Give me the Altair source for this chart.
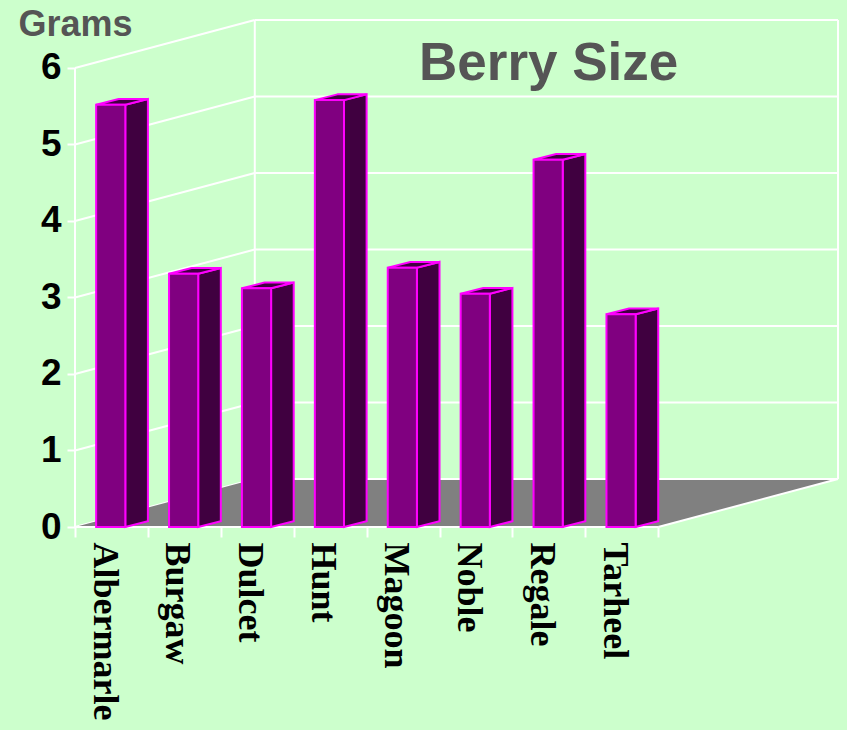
import altair as alt
import pandas as pd

categories = ["Albermarle", "Burgaw", "Dulcet", "Hunt", "Magoon", "Noble", "Regale", "Tarheel"]
grams = [5.52, 3.31, 3.12, 5.58, 3.39, 3.05, 4.80, 2.78]
y_ticks = [0, 1, 2, 3, 4, 5, 6]

BG = "#CCFFCC"
DEPTH_X, DEPTH_Y = 2.466, 0.627
BAR_L, BAR_R = 0.29, 0.69
BAR_DX, BAR_DY = 0.31, 0.075
N = len(categories)
X_MAX, Y_MAX = N + DEPTH_X, 6 + DEPTH_Y

xs = alt.Scale(domain=[0, X_MAX], nice=False, zero=False)
ys = alt.Scale(domain=[0, Y_MAX], nice=False, zero=False)

# walls
rows = []
for v in y_ticks:
    rows.append(dict(x=0, x2=DEPTH_X, y=v, y2=v + DEPTH_Y))
    rows.append(dict(x=DEPTH_X, x2=X_MAX, y=v + DEPTH_Y, y2=v + DEPTH_Y))
rows.append(dict(x=0, x2=0, y=0, y2=6))
rows.append(dict(x=DEPTH_X, x2=DEPTH_X, y=DEPTH_Y, y2=Y_MAX))
rows.append(dict(x=X_MAX, x2=X_MAX, y=DEPTH_Y, y2=Y_MAX))
grid_df = pd.DataFrame(rows)

floor_df = pd.DataFrame([
    dict(y=0, x=0, x2=N),
    dict(y=DEPTH_Y, x=DEPTH_X, x2=X_MAX),
])
edge_df = pd.DataFrame([
    dict(x=0, x2=N, y=0, y2=0),
    dict(x=N, x2=X_MAX, y=0, y2=DEPTH_Y),
    dict(x=DEPTH_X, x2=X_MAX, y=DEPTH_Y, y2=DEPTH_Y),
])

front, side, top = [], [], []
for i, (c, v) in enumerate(zip(categories, grams)):
    l, r = i + BAR_L, i + BAR_R
    front.append(dict(c=c, x=l, x2=r, y=0, y2=v))
    side.append(dict(c=c, x=r, y=0, y2=v))
    side.append(dict(c=c, x=r + BAR_DX, y=BAR_DY, y2=v + BAR_DY))
    top.append(dict(c=c, y=v, x=l, x2=r))
    top.append(dict(c=c, y=v + BAR_DY, x=l + BAR_DX, x2=r + BAR_DX))
front_df, side_df, top_df = pd.DataFrame(front), pd.DataFrame(side), pd.DataFrame(top)

label_expr = "(" + str(categories) + ")[datum.value] || ''"

x_axis = alt.Axis(
    values=list(range(N + 1)), domain=False, grid=False, title=None,
    tickColor="white", tickSize=10, tickWidth=2,
    labelExpr=label_expr, labelAngle=90, labelAlign="left", labelBaseline="alphabetic",
    labelFont="Liberation Serif", labelFontWeight="bold", labelFontSize=36, labelColor="black",
    labelPadding=5, labelOffset=18, labelLimit=1000, labelOverlap=False, labelBound=False, labelFlush=False,
)
y_axis = alt.Axis(
    values=y_ticks, domain=False, grid=False,
    tickColor="white", tickSize=8, tickWidth=2,
    labelFont="Liberation Sans", labelFontWeight="bold", labelFontSize=37, labelColor="black",
    labelPadding=6, labelOverlap=False, labelBound=False, labelFlush=False,
    title="Grams", titleAngle=0, titleX=-57, titleY=15, titleAlign="left", titleBaseline="alphabetic",
    titleFont="Liberation Sans", titleFontWeight="bold", titleFontSize=36, titleColor="#555555",
)

X = alt.X("x:Q", scale=xs, axis=x_axis)
Y = alt.Y("y:Q", scale=ys, axis=y_axis)

floor = alt.Chart(floor_df).mark_area(orient="horizontal", color="#808080").encode(
    x=X, x2="x2:Q", y=Y)
grid = alt.Chart(grid_df).mark_rule(color="white", strokeWidth=2).encode(
    x=X, x2="x2:Q", y=Y, y2="y2:Q")
edges = alt.Chart(edge_df).mark_rule(color="white", strokeWidth=2).encode(
    x=X, x2="x2:Q", y=Y, y2="y2:Q")
MAG = "#FF00FF"
sides = alt.Chart(side_df).mark_area(fill="#400040", stroke=MAG, strokeWidth=2).encode(
    x=X, y=Y, y2="y2:Q", detail="c:N")
tops = alt.Chart(top_df).mark_area(orient="horizontal", fill="#400040", stroke=MAG, strokeWidth=2).encode(
    x=X, x2="x2:Q", y=Y, detail="c:N")
fronts = alt.Chart(front_df).mark_rect(fill="#800080", stroke=MAG, strokeWidth=2).encode(
    x=X, x2="x2:Q", y=Y, y2="y2:Q")

chart = alt.layer(grid, floor, edges, sides, tops, fronts).properties(
    width=763, height=507,
    padding={"left": 75, "top": 20, "right": 9, "bottom": 203},
    autosize=alt.AutoSizeParams(type="none"),
    background=BG,
    title=alt.TitleParams(
        "Berry Size", anchor="start", frame="group", offset=0, dx=344, dy=127, baseline="alphabetic",
        font="Liberation Sans", fontWeight="bold", fontSize=53, color="#555555",
    ),
).configure_view(stroke=None)

chart.save("out.html", embed_options={"renderer": "svg", "actions": False, "defaultStyle": "html,body{background:#CCFFCC;margin:0}"})
